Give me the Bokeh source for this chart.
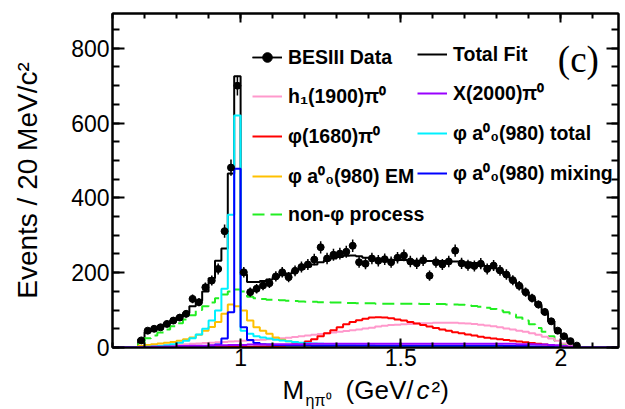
import numpy as np
from bokeh.plotting import figure
from bokeh.layouts import column
from bokeh.core.properties import value
from bokeh.models import (Range1d, SingleIntervalTicker, LinearAxis, NumeralTickFormatter,
                          CustomJSTickFormatter, Legend, LegendItem, Label)
from bokeh.embed import file_html
from bokeh.resources import INLINE

# ---------------- data (bins of 20 MeV, first bin edge 0.68 GeV) ----------------
BIN_W = 0.02
X_LO, X_HI = 0.60, 2.18
FIRST_EDGE = 0.68

data_counts = [19, 45, 50, 54, 63, 72, 80, 90, 130, 121,
               161, 179, 210, 311, 481, 700, 201, 148, 157, 166,
               172, 190, 201, 188, 205, 215, 222, 235, 268, 238,
               248, 251, 256, 272, 228, 224, 238, 232, 236, 228,
               240, 246, 230, 225, 233, 192, 228, 222, 230, 259,
               225, 220, 218, 224, 210, 219, 206, 195, 180, 165,
               148, 132, 115, 95, 70, 45, 30, 17, 5]

total_fit = [22, 42, 50, 57, 65, 73, 82, 92, 110, 125,
             150, 185, 232, 265, 465, 725, 195, 175, 175, 178,
             182, 188, 193, 198, 204, 210, 216, 222, 228, 233,
             238, 242, 245, 246, 244, 240, 238, 236, 235, 234,
             234, 234, 233, 232, 232, 231, 231, 231, 230, 230,
             229, 228, 226, 222, 218, 212, 204, 194, 180, 165,
             148, 130, 112, 92, 70, 48, 28, 12, 3]

non_phi = [10, 25, 32, 40, 48, 57, 65, 75, 86, 100,
           110, 120, 132, 142, 150, 155, 150, 136, 132, 130,
           128, 127, 126, 125, 124, 123, 122, 122, 121, 121,
           120, 120, 119, 119, 118, 118, 118, 117, 117, 117,
           117, 117, 117, 117, 116, 116, 116, 116, 115, 115,
           114, 113, 111, 109, 106, 103, 99, 94, 88, 80,
           72, 62, 52, 42, 30, 18, 8, 2, 0]

phi_1680 = [0, 0, 0, 0, 0, 0, 0, 0, 1, 1,
            1, 1, 1, 1, 2, 2, 2, 2, 3, 3,
            3, 4, 5, 7, 9, 12, 16, 22, 30, 38,
            46, 54, 62, 68, 73, 77, 80, 81, 80, 78,
            75, 72, 68, 64, 60, 56, 52, 48, 45, 41,
            38, 35, 32, 29, 26, 24, 22, 20, 18, 16,
            14, 12, 10, 8, 6, 4, 2, 1, 0]

h1_1900 = [2, 3, 4, 5, 6, 7, 8, 9, 10, 11,
           12, 13, 14, 15, 16, 17, 18, 19, 20, 21,
           22, 23, 25, 26, 28, 30, 32, 34, 36, 38,
           40, 42, 44, 46, 48, 51, 53, 56, 58, 60,
           61, 62, 63, 64, 65, 65, 66, 66, 66, 66,
           65, 64, 63, 61, 59, 57, 54, 51, 48, 45,
           42, 38, 34, 29, 24, 18, 11, 4, 0]

x_2000 = [1, 1, 2, 2, 3, 3, 4, 4, 5, 5,
          5, 6, 6, 6, 7, 7, 7, 8, 8, 8,
          8, 9, 9, 9, 9, 9, 10, 10, 10, 10,
          10, 10, 10, 10, 10, 10, 10, 10, 10, 10,
          10, 10, 10, 10, 10, 10, 10, 10, 10, 10,
          10, 10, 10, 10, 10, 10, 10, 10, 10, 9,
          9, 9, 8, 8, 7, 6, 4, 2, 0]

a0_total = [1, 2, 3, 4, 6, 9, 13, 18, 25, 35,
            50, 72, 99, 157, 355, 620, 45, 37, 30, 27,
            24, 21, 19, 17, 15, 13, 12, 11, 10, 9,
            8, 8, 7, 7, 6, 6, 6, 5, 5, 5,
            5, 4, 4, 4, 4, 4, 3, 3, 3, 3,
            3, 3, 3, 3, 3, 2, 2, 2, 2, 2,
            2, 2, 2, 1, 1, 1, 1, 0, 0]

a0_em = [5, 7, 9, 11, 13, 15, 18, 22, 27, 34,
         45, 55, 68, 90, 115, 110, 99, 72, 54, 45,
         37, 27, 21, 17, 14, 11, 9, 8, 7, 6,
         5, 5, 5, 4, 4, 4, 4, 3, 3, 3,
         3, 3, 3, 3, 2, 2, 2, 2, 2, 2,
         2, 2, 2, 2, 2, 2, 1, 1, 1, 1,
         1, 1, 1, 1, 1, 0, 0, 0, 0]

a0_mixing = [0, 0, 0, 0, 0, 0, 1, 1, 1, 2,
             3, 5, 8, 24, 94, 478, 54, 20, 12, 9,
             8, 7, 7, 6, 6, 6, 6, 5, 5, 5,
             5, 5, 5, 5, 5, 5, 5, 5, 5, 5,
             5, 5, 5, 5, 5, 5, 5, 5, 5, 5,
             5, 5, 5, 5, 5, 5, 5, 4, 4, 4,
             4, 3, 3, 2, 2, 1, 1, 0, 0]

x_major_ticks_interval = 0.5
y_major_ticks_interval = 200

# x-axis title pieces
x_title_main = ["M", "(GeV/", "c", "²)"]
x_title_main_x = [1.1311, 1.3279, 1.5496, 1.5964]
x_title_sub = ["ηπ⁰"]
x_title_sub_x = [1.2030]

# ---------------- helpers ----------------
n_all = int(round((X_HI - X_LO) / BIN_W))
off = int(round((FIRST_EDGE - X_LO) / BIN_W))
edges = X_LO + BIN_W * np.arange(n_all + 1)


def hist_xy(vals):
    arr = np.zeros(n_all)
    arr[off:off + len(vals)] = vals
    return edges, np.append(arr, arr[-1])


FONT = "Liberation Sans"
x_range = Range1d(X_LO, X_HI)
MAIN_H = 374
STRIP_H = 409 - MAIN_H

p = figure(width=625, height=MAIN_H, output_backend="svg", toolbar_location=None,
           x_range=x_range, y_range=Range1d(0, 893),
           min_border_left=112, min_border_right=7, min_border_top=13,
           min_border_bottom=MAIN_H - 347,
           background_fill_color="white", border_fill_color="white")
p.xgrid.visible = False
p.ygrid.visible = False
p.outline_line_color = "black"
p.outline_line_width = 2

xax = p.below[0]
yax = p.left[0]
xt = SingleIntervalTicker(interval=x_major_ticks_interval, num_minor_ticks=5)
yt = SingleIntervalTicker(interval=y_major_ticks_interval, num_minor_ticks=4)
xax.ticker = xt
yax.ticker = yt
xax.formatter = NumeralTickFormatter(format="0.[0]")

blank = CustomJSTickFormatter(code="return ''")
top_ax = LinearAxis(ticker=xt, formatter=blank, major_label_standoff=0)
right_ax = LinearAxis(ticker=yt, formatter=blank, major_label_standoff=0)
p.add_layout(top_ax, "above")
p.add_layout(right_ax, "right")

for ax in [xax, top_ax]:
    ax.major_tick_in, ax.major_tick_out = 9, 0
    ax.minor_tick_in, ax.minor_tick_out = 5, 0
for ax in [yax, right_ax]:
    ax.major_tick_in, ax.major_tick_out = 12, 0
    ax.minor_tick_in, ax.minor_tick_out = 7, 0
for ax in [xax, yax, top_ax, right_ax]:
    ax.axis_line_width = 2
    ax.major_tick_line_width = 2
    ax.minor_tick_line_width = 2
    ax.axis_line_color = "black"
    ax.major_tick_line_color = "black"
    ax.minor_tick_line_color = "black"

for ax in [xax, yax]:
    ax.major_label_text_font = FONT
    ax.major_label_text_font_size = "23px"
    ax.major_label_text_color = "black"
xax.major_label_standoff = 1
yax.major_label_standoff = 3

yax.axis_label = "Events / 20 MeV/c²"
yax.axis_label_text_font = FONT
yax.axis_label_text_font_size = "28px"
yax.axis_label_text_font_style = "normal"
yax.axis_label_text_color = "black"
yax.axis_label_standoff = 25

# ---------------- histograms ----------------
LW = 2
hx, hy = hist_xy(total_fit)
r_total = p.step(hx, hy, mode="after", line_color="black", line_width=LW)
hx, hy = hist_xy(non_phi)
r_green = p.step(hx, hy, mode="after", line_color="#22ee22", line_width=LW, line_dash="12 6")
hx, hy = hist_xy(h1_1900)
r_pink = p.step(hx, hy, mode="after", line_color="#ff99cc", line_width=LW)
hx, hy = hist_xy(phi_1680)
r_red = p.step(hx, hy, mode="after", line_color="#ff0000", line_width=LW)
hx, hy = hist_xy(a0_em)
r_orange = p.step(hx, hy, mode="after", line_color="#ffc000", line_width=LW)
hx, hy = hist_xy(a0_total)
r_cyan = p.step(hx, hy, mode="after", line_color="#00f0ff", line_width=LW)
hx, hy = hist_xy(a0_mixing)
r_blue = p.step(hx, hy, mode="after", line_color="#0000ff", line_width=LW)
hx, hy = hist_xy(x_2000)
r_purple = p.step(hx, hy, mode="after", line_color="#9900ff", line_width=LW)

# ---------------- data points ----------------
yc = np.array(data_counts, dtype=float)
xc = FIRST_EDGE + BIN_W * (np.arange(len(yc)) + 0.5)
err = np.sqrt(yc)
r_hseg = p.segment(x0=xc - BIN_W / 2, y0=yc, x1=xc + BIN_W / 2, y1=yc, line_color="black", line_width=1.5)
r_vseg = p.segment(x0=xc, y0=yc - err, x1=xc, y1=yc + err, line_color="black", line_width=1.5)
r_pts = p.scatter(xc, yc, marker="circle", size=7, color="black")

# ---------------- legends ----------------
common = dict(padding=0, margin=0, spacing=13, glyph_width=30, glyph_height=24, label_height=24,
              label_standoff=6, border_line_color=None, background_fill_alpha=0,
              label_text_font=FONT, label_text_font_size="19.5px", label_text_font_style="bold",
              label_text_color="black")
leg1 = Legend(items=[LegendItem(label="BESIII Data", renderers=[r_hseg, r_vseg, r_pts]),
                     LegendItem(label="h₁(1900)π⁰", renderers=[r_pink]),
                     LegendItem(label="φ(1680)π⁰", renderers=[r_red]),
                     LegendItem(label="φ a⁰₀(980) EM", renderers=[r_orange]),
                     LegendItem(label="non-φ process", renderers=[r_green])],
              location=(140, 121), **common)
leg2 = Legend(items=[LegendItem(label="Total Fit", renderers=[r_total]),
                     LegendItem(label="X(2000)π⁰", renderers=[r_purple]),
                     LegendItem(label="φ a⁰₀(980) total", renderers=[r_cyan]),
                     LegendItem(label="φ a⁰₀(980) mixing", renderers=[r_blue])],
              location=(305, 161), **common)
p.add_layout(leg1)
p.add_layout(leg2)

p.add_layout(Label(x=1.9906, y=770, text="(c)", text_font="Liberation Serif",
                   text_font_size="37px", text_color="black", text_baseline="alphabetic"))

# ---------------- x axis title (strip below the plot, same x scale) ----------------
t = figure(width=625, height=STRIP_H, output_backend="svg", toolbar_location=None,
           x_range=x_range, y_range=Range1d(0, STRIP_H), x_axis_type=None, y_axis_type=None,
           min_border_left=112, min_border_right=7, min_border_top=0, min_border_bottom=0,
           background_fill_color="white", border_fill_color="white")
t.outline_line_color = None
t.xgrid.visible = False
t.ygrid.visible = False
MAIN_Y, SUB_Y = 20, 9.2
t.text(x=x_title_main_x[:2], y=[MAIN_Y, MAIN_Y], text=x_title_main[:2], text_font=value(FONT),
       text_font_size=value("26px"), text_color="black", text_baseline="alphabetic")
t.text(x=x_title_main_x[2:3], y=[MAIN_Y], text=x_title_main[2:3], text_font=value(FONT),
       text_font_size=value("26px"), text_font_style="italic", text_color="black",
       text_baseline="alphabetic")
t.text(x=x_title_main_x[3:], y=[MAIN_Y], text=x_title_main[3:], text_font=value(FONT),
       text_font_size=value("26px"), text_color="black", text_baseline="alphabetic")
t.text(x=x_title_sub_x, y=[SUB_Y], text=x_title_sub, text_font=value(FONT),
       text_font_size=value("16px"), text_color="black", text_baseline="alphabetic")

layout = column(p, t, spacing=0)
open("out.html", "w").write(file_html(layout, INLINE))
